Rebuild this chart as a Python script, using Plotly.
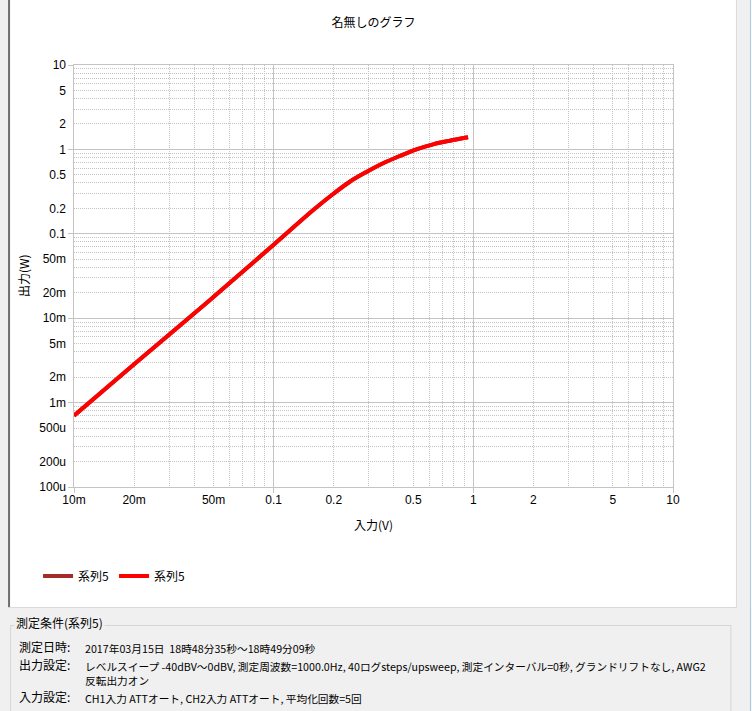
import plotly.graph_objects as go

# ---- data ----
input_v = [0.0100, 0.0200, 0.0480, 0.100, 0.1595, 0.1985, 0.2406, 0.2917, 0.3532,
           0.428, 0.519, 0.629, 0.762, 0.941]
output_w = [0.00070, 0.00285, 0.01644, 0.0743, 0.195, 0.296, 0.414, 0.540, 0.684,
            0.835, 1.00, 1.148, 1.268, 1.39]
series_names = ["系列5", "系列5"]
series_colors = ["#a52a2a", "#ff0000"]

x_tick_vals = [0.01, 0.02, 0.05, 0.1, 0.2, 0.5, 1, 2, 5, 10]
x_tick_text = ["10m", "20m", "50m", "0.1", "0.2", "0.5", "1", "2", "5", "10"]
y_tick_vals = [1e-4, 2e-4, 5e-4, 1e-3, 2e-3, 5e-3, 1e-2, 2e-2, 5e-2, 0.1, 0.2, 0.5, 1, 2, 5, 10]
y_tick_text = ["100u", "200u", "500u", "1m", "2m", "5m", "10m", "20m", "50m",
               "0.1", "0.2", "0.5", "1", "2", "5", "10"]
x_decades = [0.01, 0.1, 1, 10]
y_decades = [1e-4, 1e-3, 1e-2, 0.1, 1, 10]

title_text = "名無しのグラフ"
x_title = "入力(V)"
y_title = "出力(W)"
group_title = "測定条件(系列5)"
info_rows = [
    ("測定日時:", ["2017年03月15日  18時48分35秒～18時49分09秒"]),
    ("出力設定:", ["レベルスイープ -40dBV～0dBV, 測定周波数=1000.0Hz, 40ログsteps/upsweep, 測定インターバル=0秒, グランドリフトなし, AWG2",
                "反転出力オン"]),
    ("入力設定:", ["CH1入力 ATTオート, CH2入力 ATTオート, 平均化回数=5回"]),
]

# ---- layout geometry (pixels) ----
W, H = 752, 711
PL, PR, PT, PB = 74, 673.5, 65, 487


def px(x):
    return (x - PL) / (PR - PL)


def py(y):
    return (PB - y) / (PB - PT)


def minor_vals(lo_exp, hi_exp):
    vals = []
    for e in range(lo_exp, hi_exp):
        for m in range(2, 10):
            vals.append(m * 10 ** e)
    return vals


JP = "Noto Sans CJK JP"
TICKF = "Liberation Sans"
GRID = "#c4c4c4"

fig = go.Figure()
# first series (underneath)
fig.add_trace(go.Scatter(x=input_v, y=output_w, mode="lines", name=series_names[0],
                         line=dict(color=series_colors[0], width=4, shape="spline", smoothing=1.0),
                         xaxis="x", yaxis="y"))
# second series (on top)
fig.add_trace(go.Scatter(x=input_v, y=output_w, mode="lines", name=series_names[1],
                         line=dict(color=series_colors[1], width=4, shape="spline", smoothing=1.0),
                         xaxis="x2", yaxis="y2"))

common_axis = dict(type="log", zeroline=False)

fig.update_layout(
    width=W, height=H,
    margin=dict(l=PL, r=W - PR, t=PT, b=H - PB, pad=0),
    paper_bgcolor="white", plot_bgcolor="white",
    title=dict(text=title_text, x=0.5, xref="paper", xanchor="center",
               y=1 - 23 / H, yref="container", yanchor="middle",
               font=dict(family=JP, size=12, color="black")),
    xaxis=dict(**common_axis, range=[-2, 1], tickmode="array", tickvals=x_decades,
               showticklabels=False, ticks="outside", ticklen=5, tickcolor=GRID,
               showgrid=True, gridcolor=GRID, gridwidth=1,
               showline=True, linecolor=GRID, linewidth=1, mirror=True,
               minor=dict(tickmode="array", tickvals=minor_vals(-2, 1), showgrid=True,
                          gridcolor=GRID, griddash="1px,1px", gridwidth=1, ticks="")),
    yaxis=dict(**common_axis, range=[-4, 1], tickmode="array", tickvals=y_decades,
               showticklabels=False, ticks="outside", ticklen=5, tickcolor=GRID,
               showgrid=True, gridcolor=GRID, gridwidth=1,
               showline=True, linecolor=GRID, linewidth=1, mirror=True,
               minor=dict(tickmode="array", tickvals=minor_vals(-4, 1), showgrid=True,
                          gridcolor=GRID, griddash="1px,1px", gridwidth=1, ticks="")),
    xaxis2=dict(**common_axis, range=[-2, 1], overlaying="x", anchor="y", side="bottom",
                tickmode="array", tickvals=x_tick_vals, ticktext=x_tick_text,
                showgrid=False, showline=False, ticks="", ticklabelstandoff=4,
                tickfont=dict(family=TICKF, size=12, color="black")),
    yaxis2=dict(**common_axis, range=[-4, 1], overlaying="y", anchor="x", side="left",
                tickmode="array", tickvals=y_tick_vals, ticktext=y_tick_text,
                showgrid=False, showline=False, ticks="", ticklabelstandoff=7,
                tickfont=dict(family=TICKF, size=12, color="black")),
    showlegend=True,
    legend=dict(orientation="h", x=px(38), xanchor="left", y=py(576), yanchor="middle",
                font=dict(family=JP, size=12, color="black"), bgcolor="rgba(0,0,0,0)",
                itemwidth=30, tracegroupgap=0),
)

# axis titles
annotations = [
    dict(text=x_title, x=0.5, y=py(524), xref="paper", yref="paper", showarrow=False,
         xanchor="center", yanchor="middle", font=dict(family=JP, size=12, color="black")),
    dict(text=y_title, x=px(23), y=0.5, xref="paper", yref="paper", showarrow=False,
         textangle=-90, xanchor="center", yanchor="middle",
         font=dict(family=JP, size=12, color="black")),
]

# window chrome / info panel
BG = "#f0f0f0"
shapes = [
    dict(type="rect", xref="paper", yref="paper", x0=px(0), x1=px(W), y0=py(H), y1=py(608),
         fillcolor=BG, line=dict(width=0), layer="below"),
    dict(type="rect", xref="paper", yref="paper", x0=px(0), x1=px(8), y0=py(H), y1=py(0),
         fillcolor=BG, line=dict(width=0), layer="below"),
    dict(type="rect", xref="paper", yref="paper", x0=px(737), x1=px(W), y0=py(H), y1=py(0),
         fillcolor=BG, line=dict(width=0), layer="below"),
    dict(type="line", xref="paper", yref="paper", x0=px(9), x1=px(9), y0=py(608), y1=py(0),
         line=dict(color="#6e6e6e", width=2), layer="below"),
    dict(type="line", xref="paper", yref="paper", x0=px(8), x1=px(737), y0=py(607.5), y1=py(607.5),
         line=dict(color="#dadada", width=1), layer="below"),
    dict(type="line", xref="paper", yref="paper", x0=px(737), x1=px(737), y0=py(607.5), y1=py(0),
         line=dict(color="#dadada", width=1), layer="below"),
    dict(type="line", xref="paper", yref="paper", x0=px(751), x1=px(751), y0=py(H), y1=py(0),
         line=dict(color="#a9c8e4", width=1), layer="below"),
    dict(type="rect", xref="paper", yref="paper", x0=px(10.5), x1=px(731.5), y0=py(H + 5), y1=py(625.5),
         fillcolor="rgba(0,0,0,0)", line=dict(color="#d6d6d6", width=1), layer="below"),
]

annotations.append(dict(text=group_title, x=px(14), y=py(622), xref="paper", yref="paper",
                        showarrow=False, xanchor="left", yanchor="middle", bgcolor=BG,
                        borderpad=1, font=dict(family=JP, size=12, color="black")))

row_y = [646, 664, 696]
for (label, lines), y0 in zip(info_rows, row_y):
    annotations.append(dict(text=label, x=px(17), y=py(y0), xref="paper", yref="paper",
                            showarrow=False, xanchor="left", yanchor="middle",
                            font=dict(family=JP, size=12, color="black")))
    # multi-line values go into one text block so the lines sit tight together
    annotations.append(dict(text="<br>".join(lines), x=px(83), y=py(y0 - 7), xref="paper",
                            yref="paper", showarrow=False, xanchor="left", yanchor="top",
                            align="left", font=dict(family=JP, size=10.7, color="black")))

fig.update_layout(shapes=shapes, annotations=annotations)

fig.write_html("out.html", config={"displayModeBar": False},
               post_script="document.body.style.margin='0';document.body.style.padding='0';")
